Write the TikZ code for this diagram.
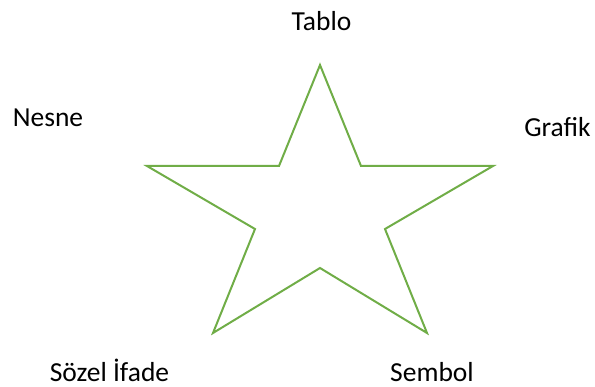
\documentclass[tikz,border=0pt]{standalone}
\usepackage{fontspec}
\setmainfont{Carlito}
\usetikzlibrary{calc,positioning}
\definecolor{stargreen}{HTML}{70AD47}

\begin{document}
\begin{tikzpicture}[x=1pt, y=-1pt, label/.style={anchor=base, inner sep=0pt, font=\fontsize{27.5}{33}\selectfont}]
 \useasboundingbox (0,0) rectangle (595,387);
 \draw[stargreen, line width = 2pt, line join=miter] (320,65) -- (279,166) -- (147,166) -- (255,229) -- (213,333) -- (320,268) -- (427,333) -- (385,229) -- (493,166) -- (361,166) -- cycle;

 \node[label] (tablo) at (321.5,30.7) {Tablo};
 \node[label] (nesne) at (48,126.7) {Nesne};
 \node[label] (grafik) at (557.5,136.7) {Grafik};
 \node[label] (sozel) at (109.5,382) {Sözel İfade};
 \node[label] (sembol) at (432,382) {Sembol};
\end{tikzpicture}
\end{document}
